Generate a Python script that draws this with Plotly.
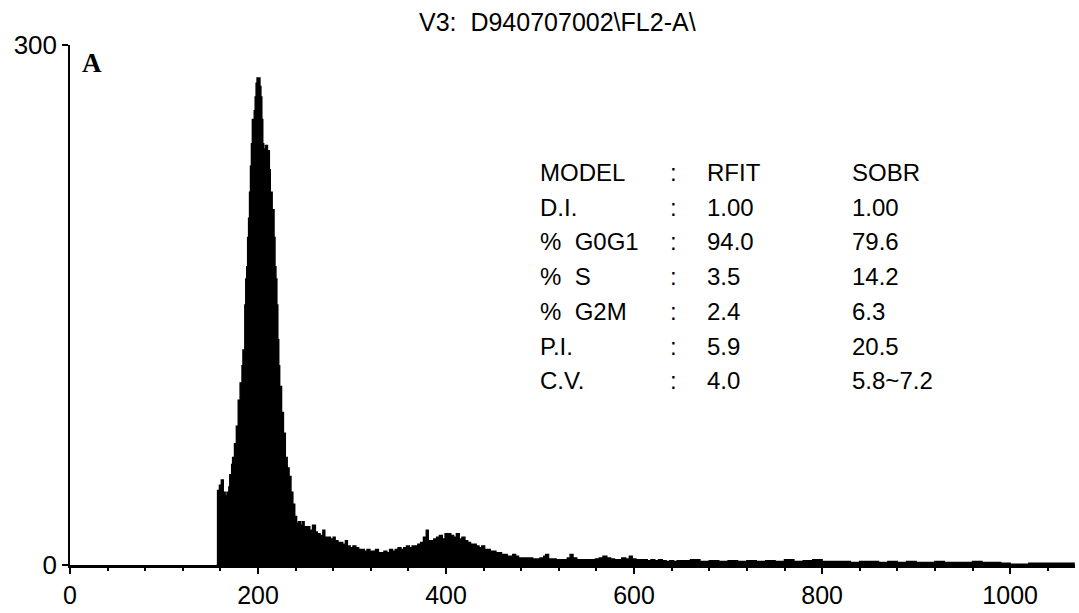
import plotly.graph_objects as go

# ---- histogram data (channel, count) ----
peak_x = [157, 159, 161, 163, 165, 167, 169, 170, 172, 173,
          175, 177, 179, 181, 183, 184, 186, 187, 188, 189,
          190, 191, 192, 193, 194, 195, 196, 197, 198, 199,
          200, 201, 202, 203, 204, 205, 206, 208, 210, 212,
          213, 215, 217, 218, 219, 220, 221, 222, 223, 225,
          227, 229, 231, 233, 235, 237, 239, 241, 243, 245,
          247, 249]
peak_y = [43, 46, 49, 42, 40, 42, 45, 52, 58, 62,
          70, 80, 95, 105, 115, 124, 150, 165, 172, 189,
          200, 215, 230, 243, 257, 257, 262, 270, 278, 281,
          280, 281, 276, 270, 257, 243, 240, 242, 239, 228,
          215, 205, 189, 172, 165, 150, 130, 115, 103, 88,
          76, 62, 56, 51, 42, 35, 28, 24, 25, 23,
          25, 22]

tail_x = [251, 255, 258, 261, 263, 266, 269, 271, 274, 277,
          280, 282, 285, 288, 290, 293, 295, 298, 301, 304,
          307, 310, 313, 316, 319, 322, 325, 328, 331, 334,
          337, 340, 343, 346, 349, 352, 355, 358, 361, 364,
          367, 370, 373, 376, 379, 381, 384, 387, 390, 393,
          396, 399, 402, 405, 408, 411, 414, 417, 420, 423,
          426, 429, 432, 435, 438, 441, 444, 447, 450, 453,
          456, 459, 462, 465, 468, 471, 474, 477, 480, 484,
          488, 492, 496, 500, 504, 506, 509, 513, 517, 521,
          525, 529, 532, 535, 539, 543, 547, 551, 555, 559,
          563, 567, 571, 575, 579, 583, 587, 591, 595, 598,
          602, 606, 610, 614, 618, 622, 626, 630, 634, 638,
          642, 646, 650]
tail_y = [22, 20, 23, 19, 18, 17, 20, 16, 16, 15,
          16, 14, 13, 13, 12, 14, 11, 10, 11, 10,
          9, 9, 8, 9, 8, 8, 9, 7, 7, 8,
          7, 9, 8, 9, 10, 9, 10, 11, 10, 11,
          11, 12, 13, 16, 20, 14, 14, 15, 16, 17,
          15, 18, 18, 17, 16, 18, 15, 16, 14, 13,
          12, 12, 11, 10, 11, 9, 9, 8, 8, 7,
          7, 6, 6, 5, 5, 6, 5, 4, 4, 4,
          4, 3.5, 3.5, 4, 5, 6, 3.5, 3.5, 3, 3,
          3, 4, 6, 4, 3, 3, 3, 3, 3, 3.5,
          4, 5, 4, 3.5, 3, 3, 4, 3.5, 5, 3.5,
          3, 3, 3, 2.5, 3, 2.5, 3, 2.5, 2, 2.5,
          2, 2.5, 2.5]

far_x = [660, 670, 680, 690, 700, 710, 720, 730, 740, 750,
         760, 770, 780, 790, 800, 810, 820, 830, 840, 850,
         860, 870, 880, 890, 900, 910, 920, 930, 940, 950,
         960, 970, 980, 990, 1000, 1010, 1020, 1030, 1040, 1050,
         1060, 1068]
far_y = [3, 2, 2.5, 2, 2.5, 2, 2.5, 2, 2.5, 2,
         3, 2, 2.5, 3, 2, 2, 2, 1.5, 2, 2,
         1.5, 2, 1.5, 2, 1.5, 1.5, 2, 1.5, 1.5, 1.5,
         2, 1.5, 1.5, 1, 0.5, 0.5, 1, 1, 1, 1,
         1, 0]

x_ticks = [0, 200, 400, 600, 800, 1000]
y_ticks = [0, 300]

title_text = "V3:  D940707002\\FL2-A\\"
panel_label = "A"

stat_labels = ["MODEL", "D.I.", "%  G0G1", "%  S", "%  G2M", "P.I.", "C.V."]
rfit_vals = ["RFIT", "1.00", "94.0", "3.5", "2.4", "5.9", "4.0"]
sobr_vals = ["SOBR", "1.00", "79.6", "14.2", "6.3", "20.5", "5.8~7.2"]

# ---- build figure ----
xs = [156] + peak_x + tail_x + far_x
ys = [0] + peak_y + tail_y + far_y

fig = go.Figure()
fig.add_trace(go.Scatter(
    x=xs, y=ys, mode="lines", line=dict(shape="hv", color="black", width=1.5),
    fill="tozeroy", fillcolor="black", hoverinfo="skip", showlegend=False))

W, H = 1079, 613
L, R, T, B = 70, 4, 45, 48
pw, ph = W - L - R, H - T - B


def px2paper(px, py):
    return (px - L) / pw, (H - B - py) / ph


FONT = "Liberation Sans, Arial, sans-serif"
anns = []
tx, ty = px2paper(557, 22)
anns.append(dict(x=tx, y=ty, xref="paper", yref="paper", text=title_text,
                 showarrow=False, xanchor="center", yanchor="middle",
                 font=dict(family=FONT, size=25, color="black")))
ax_, ay_ = px2paper(80, 63)
anns.append(dict(x=ax_, y=ay_, xref="paper", yref="paper", text="<b>%s</b>" % panel_label,
                 showarrow=False, xanchor="left", yanchor="middle",
                 font=dict(family="Liberation Serif, Times New Roman, serif", size=27, color="black")))

row_y = [172, 207, 241, 276, 311, 347, 381]
for i, yy in enumerate(row_y):
    for colx, txt in ((538, stat_labels[i]), (668, ":"), (705, rfit_vals[i]), (850, sobr_vals[i])):
        xp, yp = px2paper(colx, yy)
        anns.append(dict(x=xp, y=yp, xref="paper", yref="paper", text=txt,
                         showarrow=False, xanchor="left", yanchor="middle",
                         font=dict(family=FONT, size=24, color="black")))

fig.update_layout(
    width=W, height=H, margin=dict(l=L, r=R, t=T, b=B, autoexpand=False),
    paper_bgcolor="white", plot_bgcolor="white",
    annotations=anns,
    xaxis=dict(range=[0, 1069], tickvals=x_ticks, ticktext=[str(v) for v in x_ticks],
               ticks="outside", ticklen=6, tickwidth=1.5, tickcolor="black",
               showline=True, linewidth=3, linecolor="black",
               showgrid=False, zeroline=False,
               minor=dict(dtick=40, tick0=0, ticks="outside", ticklen=3, tickcolor="black"),
               tickfont=dict(family=FONT, size=25, color="black")),
    yaxis=dict(range=[0, 300], tickvals=y_ticks, ticktext=[str(v) for v in y_ticks],
               ticks="outside", ticklen=6, tickwidth=1.5, tickcolor="black",
               showline=True, linewidth=1.5, linecolor="black",
               showgrid=False, zeroline=False,
               tickfont=dict(family=FONT, size=26, color="black")),
)

fig.write_html("out.html", config={"displayModeBar": False},
               post_script="document.body.style.margin='0';document.body.style.padding='0';"
                           "document.documentElement.style.overflow='hidden';")
